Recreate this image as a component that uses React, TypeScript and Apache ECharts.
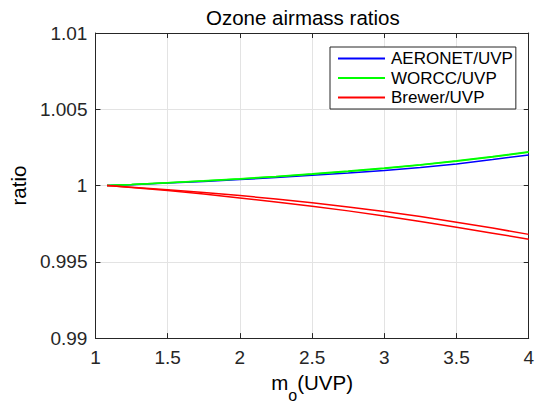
import React, { useEffect, useRef } from "react";
import * as echarts from "echarts";

const xValues = [1.08, 1.25, 1.5, 1.75, 2, 2.25, 2.5, 2.75, 3, 3.25, 3.5, 3.75, 4];
const aeronet = [1.0, 1.00006, 1.00016, 1.00027, 1.00039, 1.00052, 1.00067, 1.00082, 1.00099, 1.00119, 1.00141, 1.0017, 1.00201];
const worccA = [1.0, 1.00007, 1.00018, 1.0003, 1.00043, 1.00058, 1.00074, 1.00092, 1.00112, 1.00134, 1.00159, 1.00187, 1.00218];
const worccB = [1.0, 1.00007, 1.00019, 1.00031, 1.00045, 1.0006, 1.00077, 1.00095, 1.00115, 1.00137, 1.00162, 1.0019, 1.00221];
const brewerA = [1.0, 0.99989, 0.99972, 0.99954, 0.99934, 0.99912, 0.99887, 0.9986, 0.9983, 0.99797, 0.9976, 0.99721, 0.9968];
const brewerB = [1.0, 0.99987, 0.99967, 0.99944, 0.99918, 0.99892, 0.99865, 0.99834, 0.99801, 0.99765, 0.99727, 0.99688, 0.99648];
const legendNames = ["AERONET/UVP", "WORCC/UVP", "Brewer/UVP"];
const colors = ["#0000ff", "#00ff00", "#ff0000"];

const FONT = "'Liberation Sans', Arial, Helvetica, sans-serif";
const TXT = "#262626";

const fmt = (v: number) => String(parseFloat(Number(v).toFixed(4)));

export default function App() {
  const ref = useRef<HTMLDivElement>(null);
  useEffect(() => {
    if (!ref.current) return;
    const chart = echarts.init(ref.current, null, { renderer: "svg" });
    const pair = (ys: number[]) => xValues.map((x, i) => [x, ys[i]]);
    const line = (name: string, color: string, ys: number[], width = 1.5) => ({
      type: "line",
      name,
      data: pair(ys),
      showSymbol: false,
      symbol: "none",
      lineStyle: { color, width },
      itemStyle: { color },
      xAxisIndex: 0,
      yAxisIndex: 0,
    });
    const axisCommon = {
      axisLine: { show: true, onZero: false, lineStyle: { color: TXT, width: 1 } },
      axisTick: { show: true, inside: true, length: 5, lineStyle: { color: TXT } },
    };
    chart.setOption({
      animation: false,
      backgroundColor: "#ffffff",
      title: {
        text: "Ozone airmass ratios",
        left: 206,
        top: 7,
        padding: 0,
        textStyle: { fontFamily: FONT, fontSize: 20.5, fontWeight: "normal", color: "#000" },
      },
      grid: { left: 92, right: 3, top: 33, bottom: 63, containLabel: false },
      legend: {
        data: legendNames,
        left: 330,
        top: 47,
        orient: "vertical",
        padding: [3, 3, 3, 8],
        itemGap: 2.5,
        itemWidth: 47,
        itemHeight: 2,
        icon: "rect",
        borderColor: TXT,
        borderWidth: 1,
        backgroundColor: "#ffffff",
        textStyle: { fontFamily: FONT, fontSize: 17, color: "#000", padding: [0, 0, 0, 1] },
      },
      xAxis: [
        {
          type: "value",
          min: 1,
          max: 4,
          interval: 0.5,
          ...axisCommon,
          axisLabel: { fontFamily: FONT, fontSize: 19, color: TXT, margin: 10, formatter: fmt },
          splitLine: { show: true, lineStyle: { color: "#e3e3e3", width: 1 } },
          name: "{a|m}{b|o}{a|(UVP)}",
          nameLocation: "middle",
          nameGap: 31,
          nameTextStyle: {
            color: "#000",
            rich: {
              a: { fontFamily: FONT, fontSize: 20.5, color: "#000", verticalAlign: "top", lineHeight: 22 },
              b: { fontFamily: FONT, fontSize: 16, color: "#000", verticalAlign: "bottom", lineHeight: 31 },
            },
          },
        },
        {
          type: "value",
          position: "top",
          min: 1,
          max: 4,
          interval: 0.5,
          ...axisCommon,
          axisLabel: { show: false },
          splitLine: { show: false },
        },
      ],
      yAxis: [
        {
          type: "value",
          min: 0.99,
          max: 1.01,
          interval: 0.005,
          ...axisCommon,
          axisLabel: { fontFamily: FONT, fontSize: 19, color: TXT, margin: 8, formatter: fmt },
          splitLine: { show: true, lineStyle: { color: "#e3e3e3", width: 1 } },
          name: "ratio",
          nameLocation: "middle",
          nameGap: 62,
          nameRotate: 90,
          nameTextStyle: { fontFamily: FONT, fontSize: 20.5, color: "#000" },
        },
        {
          type: "value",
          position: "right",
          min: 0.99,
          max: 1.01,
          interval: 0.005,
          ...axisCommon,
          axisLabel: { show: false },
          splitLine: { show: false },
        },
      ],
      series: [
        line(legendNames[0], colors[0], aeronet),
        line(legendNames[1], colors[1], worccA),
        line(legendNames[1], colors[1], worccB),
        line(legendNames[2], colors[2], brewerA),
        line(legendNames[2], colors[2], brewerB),
      ],
    });
    return () => chart.dispose();
  }, []);
  return (
    <div
      ref={ref}
      style={{ position: "absolute", left: 0, top: 0, width: 537, height: 408, background: "#fff" }}
    />
  );
}
